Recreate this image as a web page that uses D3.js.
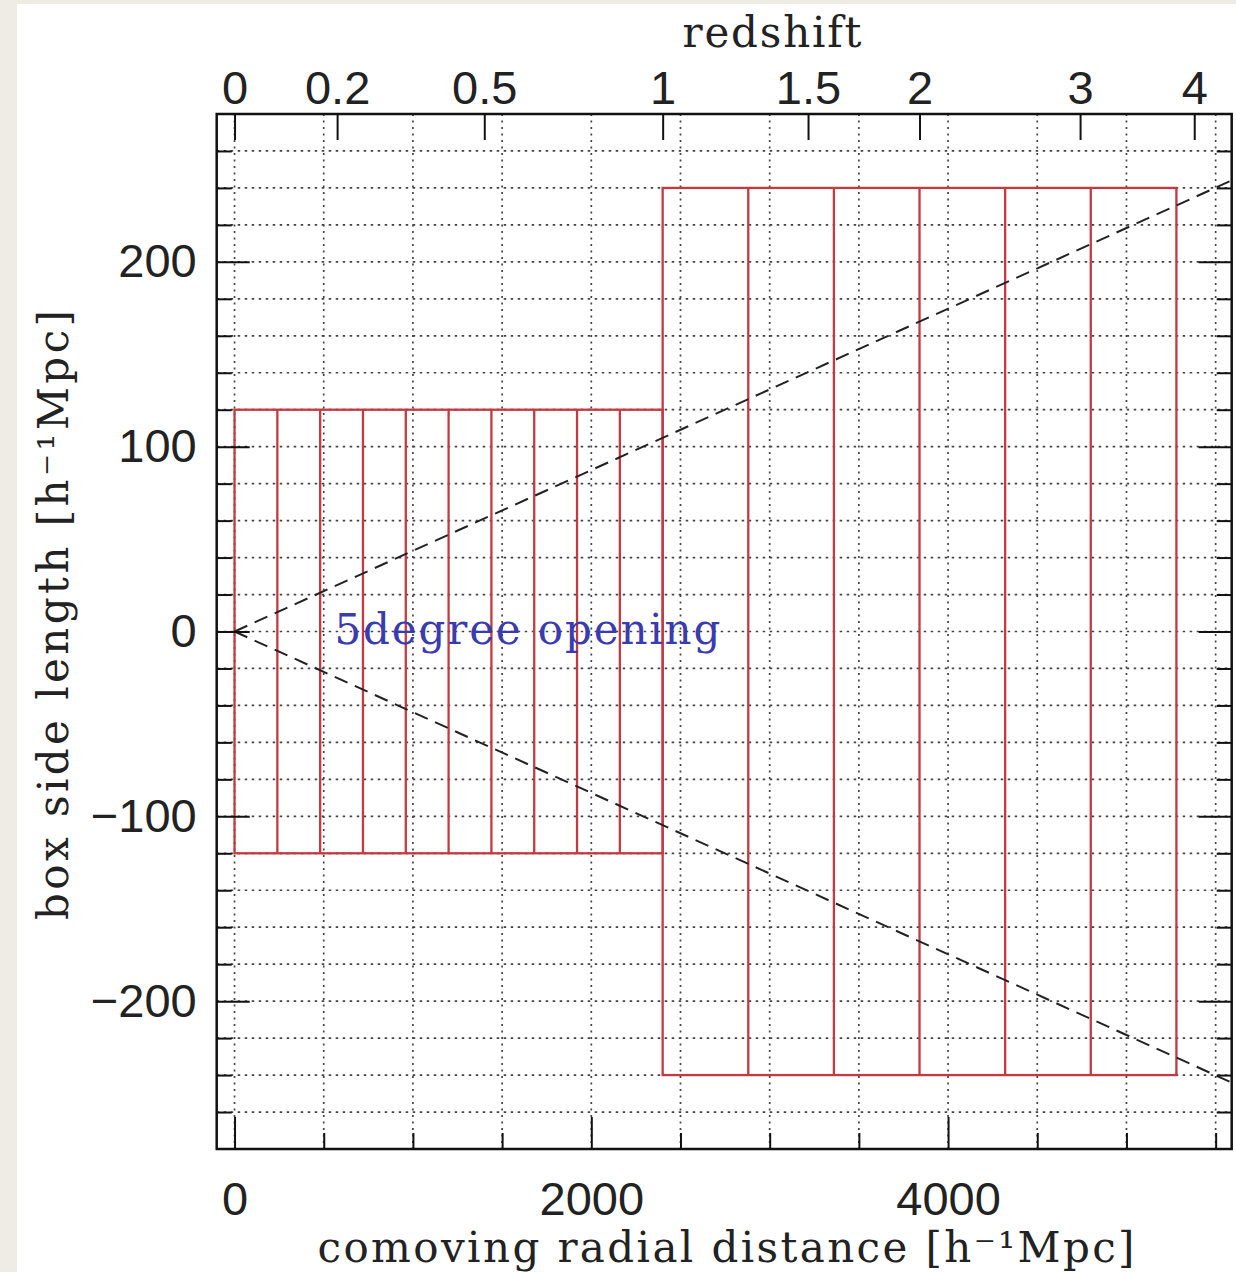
<!DOCTYPE html>
<html>
<head>
<meta charset="utf-8">
<script src="https://cdn.jsdelivr.net/npm/d3@7/dist/d3.min.js"></script>
<style>
  body { margin: 0; background: #efece6; }
  #chart { width: 1236px; height: 1272px; }
</style>
</head>
<body>
<div id="chart"></div>
<script>

// box edges along the line of sight [h^-1 Mpc]
var smallBoxEdges = [0, 240, 480, 720, 960, 1200, 1440, 1680, 1920, 2160, 2400];
var bigBoxEdges = [2400, 2880, 3360, 3840, 4320, 4800, 5280];
var smallBoxHalf = 120;
var bigBoxHalf = 240;
var openingDeg = 5;

// redshift axis on top: redshift -> comoving distance
var redshiftLabels = ["0", "0.2", "0.5", "1", "1.5", "2", "3", "4"];
var redshiftDist = [0, 575, 1400, 2400, 3215, 3840, 4740, 5380];

var xMajor = [0, 2000, 4000];
var xMinor = [500, 1000, 1500, 2500, 3000, 3500, 4500, 5000, 5500];
var yMajor = [-200, -100, 0, 100, 200];
var yMinor = [-260, -240, -220, -180, -160, -140, -120, -80, -60, -40, -20,
              20, 40, 60, 80, 120, 140, 160, 180, 220, 240, 260];

var width = 1236, height = 1272;
var plotLeft = 216.7, plotRight = 1231.7, plotTop = 114, plotBottom = 1149;

var svg = d3.select("#chart").append("svg")
	.attr("width", width)
	.attr("height", height);

svg.append("rect").attr("x", 17).attr("y", 4).attr("width", width - 17).attr("height", height - 4)
	.attr("fill", "white");

var x = d3.scaleLinear().domain([-100, 5590]).range([plotLeft, plotRight]);
var y = d3.scaleLinear().domain([-280, 280]).range([plotBottom, plotTop]);

svg.append("clipPath").attr("id", "plot").append("rect")
	.attr("x", plotLeft).attr("y", plotTop).attr("width", plotRight - plotLeft).attr("height", plotBottom - plotTop);

var grid = svg.append("g").attr("stroke", "#444").attr("stroke-width", 1.7);
grid.selectAll(".vg").data(xMajor.concat(xMinor)).enter().append("line")
	.attr("x1", d => x(d)).attr("x2", d => x(d))
	.attr("y1", plotTop).attr("y2", plotBottom)
	.attr("stroke-dasharray", "2,4.5");
grid.selectAll(".hg").data(yMajor.concat(yMinor)).enter().append("line")
	.attr("y1", d => y(d)).attr("y2", d => y(d))
	.attr("x1", plotLeft).attr("x2", plotRight)
	.attr("stroke-dasharray", "2.5,4.5");

// red boxes
var boxes = svg.append("g").attr("fill", "none").attr("stroke", "#c23a42").attr("stroke-width", 2.3);
boxes.append("rect")
	.attr("x", x(smallBoxEdges[0])).attr("y", y(smallBoxHalf))
	.attr("width", x(smallBoxEdges[smallBoxEdges.length - 1]) - x(smallBoxEdges[0]))
	.attr("height", y(-smallBoxHalf) - y(smallBoxHalf));
boxes.selectAll(".sb").data(smallBoxEdges.slice(1, -1)).enter().append("line")
	.attr("x1", d => x(d)).attr("x2", d => x(d))
	.attr("y1", y(smallBoxHalf)).attr("y2", y(-smallBoxHalf));
boxes.append("rect")
	.attr("x", x(bigBoxEdges[0])).attr("y", y(bigBoxHalf))
	.attr("width", x(bigBoxEdges[bigBoxEdges.length - 1]) - x(bigBoxEdges[0]))
	.attr("height", y(-bigBoxHalf) - y(bigBoxHalf));
boxes.selectAll(".bb").data(bigBoxEdges.slice(1, -1)).enter().append("line")
	.attr("x1", d => x(d)).attr("x2", d => x(d))
	.attr("y1", y(bigBoxHalf)).attr("y2", y(-bigBoxHalf));

// opening angle
var slope = Math.tan(openingDeg / 2 * Math.PI / 180);
var xEnd = x.domain()[1];
svg.append("g").attr("clip-path", "url(#plot)")
	.selectAll("line").data([1, -1]).enter().append("line")
	.attr("x1", x(0)).attr("y1", y(0))
	.attr("x2", x(xEnd)).attr("y2", d => y(d * slope * xEnd))
	.attr("stroke", "#222").attr("stroke-width", 2).attr("stroke-dasharray", "14,8");

// axes
var tickFont = "Liberation Sans";
function styleAxis(g) {
	g.select(".domain").remove();
	g.selectAll(".tick line").attr("stroke", "#111").attr("stroke-width", 2);
	g.selectAll("text").attr("font-family", tickFont).attr("font-size", 47).attr("fill", "#222");
}
svg.append("g").attr("transform", "translate(0," + plotBottom + ")")
	.call(d3.axisBottom(x).tickValues(xMinor).tickSize(-16).tickFormat("")).call(styleAxis);
svg.append("g").attr("transform", "translate(0," + plotBottom + ")")
	.call(d3.axisBottom(x).tickValues(xMajor).tickSize(-32).tickPadding(33).tickFormat(d3.format("d"))).call(styleAxis);
svg.append("g").attr("transform", "translate(" + plotLeft + ",0)")
	.call(d3.axisLeft(y).tickValues(yMinor).tickSize(-15).tickFormat("")).call(styleAxis);
svg.append("g").attr("transform", "translate(" + plotLeft + ",0)")
	.call(d3.axisLeft(y).tickValues(yMajor).tickSize(-33).tickPadding(20).tickFormat(d => d < 0 ? "\u2212" + Math.abs(d) : d)).call(styleAxis);
svg.append("g").attr("transform", "translate(" + plotRight + ",0)")
	.call(d3.axisRight(y).tickValues(yMinor).tickSize(-15).tickFormat("")).call(styleAxis);
svg.append("g").attr("transform", "translate(" + plotRight + ",0)")
	.call(d3.axisRight(y).tickValues(yMajor).tickSize(-33).tickFormat("")).call(styleAxis);
svg.append("g").attr("transform", "translate(0," + plotTop + ")")
	.call(d3.axisTop(x).tickValues(redshiftDist).tickSize(-26).tickPadding(10)
		.tickFormat((d, i) => redshiftLabels[i])).call(styleAxis);

svg.append("rect").attr("x", plotLeft).attr("y", plotTop).attr("width", plotRight - plotLeft).attr("height", plotBottom - plotTop)
	.attr("fill", "none").attr("stroke", "#111").attr("stroke-width", 2.5);

// titles
var serif = "DejaVu Serif";
svg.append("text").attr("x", 772).attr("y", 47).attr("text-anchor", "middle")
	.attr("font-family", serif).attr("font-size", 42).attr("fill", "#222")
	.attr("textLength", 179).attr("lengthAdjust", "spacing").text("redshift");
svg.append("text").attr("x", 726).attr("y", 1262).attr("text-anchor", "middle")
	.attr("font-family", serif).attr("font-size", 42).attr("fill", "#222")
	.attr("textLength", 817).attr("lengthAdjust", "spacing").text("comoving radial distance [h\u207B\u00B9Mpc]");
svg.append("text").attr("transform", "translate(68,615) rotate(-90)").attr("text-anchor", "middle")
	.attr("font-family", serif).attr("font-size", 42).attr("fill", "#222")
	.attr("textLength", 610).attr("lengthAdjust", "spacing").text("box side length [h\u207B\u00B9Mpc]");
svg.append("text").attr("x", x(560)).attr("y", y(-7))
	.attr("font-family", serif).attr("font-size", 42).attr("fill", "#3b3bb0")
	.attr("textLength", 386).attr("lengthAdjust", "spacing").text("5degree opening");

</script>
</body>
</html>
